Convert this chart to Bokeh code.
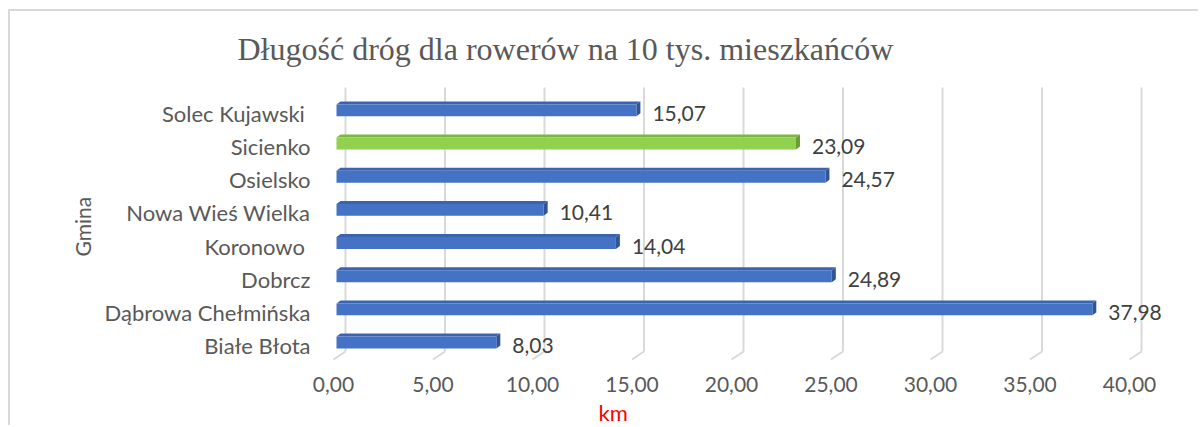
from bokeh.plotting import figure
from bokeh.models import Range1d, FixedTicker, ColumnDataSource, Title
from bokeh.core.properties import value
from bokeh.embed import file_html
from bokeh.resources import INLINE

# ---------------- data ----------------
categories = ["Białe Błota", "Dąbrowa Chełmińska", "Dobrcz", "Koronowo ",
              "Nowa Wieś Wielka", "Osielsko", "Sicienko", "Solec Kujawski "]
values = [8.03, 37.98, 24.89, 14.04, 10.41, 24.57, 23.09, 15.07]
highlight = "Sicienko"
x_ticks = [0, 5, 10, 15, 20, 25, 30, 35, 40]
title_text = "Długość dróg dla rowerów na 10 tys. mieszkańców"
x_title = "km"
y_title = "Gmina"

# ---------------- layout (canvas px) ----------------
W, H = 1190, 416
FL, FR, FT, FB = 310, 1170, 69, 351      # frame edges
X0_PX, X_SCALE = 323, 19.9               # x=0 position and px per unit
Y0_PX, Y_STEP = 335, 33.29               # first category centre and px per category
GRID_TOP, GRID_BACK, GRID_FRONT, GRID_DEPTH = 76, 341, 349, 12
BAR_DX, BAR_DEPTH, BAR_LIFT = 3, 4, 3
FRONT_BOTTOM, FRONT_TOP = -3, 9          # px relative to category centre (upwards)

BLUE, BLUE_TOP, BLUE_SIDE = "#4472C4", "#3B64B0", "#2F5597"
GREEN, GREEN_TOP, GREEN_SIDE = "#92D050", "#7CB83E", "#6A9E33"
TEXT = "#595959"


def dx(px):
    return px / X_SCALE


def dy(px):
    return px / Y_STEP


def ydata(canvas_px):
    return (Y0_PX - canvas_px) / Y_STEP


x_range = Range1d((FL - X0_PX) / X_SCALE, (FR - X0_PX) / X_SCALE)
y_range = Range1d(ydata(FB), ydata(FT))

p = figure(width=W, height=H, x_range=x_range, y_range=y_range,
           output_backend="svg", toolbar_location=None,
           min_border_left=FL, min_border_right=W - FR,
           min_border_top=FT, min_border_bottom=H - FB)
p.styles = {"border-top": "2px solid #D9D9D9", "border-left": "2px solid #D9D9D9",
            "margin-left": "8px", "margin-top": "9px"}
p.outline_line_color = None
p.background_fill_color = "white"
p.border_fill_color = "white"
p.xgrid.visible = False
p.ygrid.visible = False

# ---- 3D style grid lines (back wall + floor diagonal) ----
gx_back = [t + dx(GRID_DEPTH) for t in x_ticks]
p.segment(x0=gx_back, y0=[ydata(GRID_BACK)] * len(x_ticks),
          x1=gx_back, y1=[ydata(GRID_TOP)] * len(x_ticks),
          line_color="#D9D9D9", line_width=2)
p.segment(x0=gx_back, y0=[ydata(GRID_BACK)] * len(x_ticks),
          x1=x_ticks, y1=[ydata(GRID_FRONT)] * len(x_ticks),
          line_color="#D9D9D9", line_width=2)

# ---- bars ----
idx = list(range(len(categories)))
front_c = [GREEN if c == highlight else BLUE for c in categories]
top_c = [GREEN_TOP if c == highlight else BLUE_TOP for c in categories]
side_c = [GREEN_SIDE if c == highlight else BLUE_SIDE for c in categories]

x0 = dx(BAR_DX)
fb = [i + dy(FRONT_BOTTOM) for i in idx]
ft = [i + dy(FRONT_TOP) for i in idx]
xe = [v + dx(BAR_DX) for v in values]

top_xs = [[x0, e, e + dx(BAR_DEPTH), x0 + dx(BAR_DEPTH)] for e in xe]
top_ys = [[t, t, t + dy(BAR_LIFT), t + dy(BAR_LIFT)] for t in ft]
side_xs = [[e, e, e + dx(BAR_DEPTH), e + dx(BAR_DEPTH)] for e in xe]
side_ys = [[b, t, t + dy(BAR_LIFT), b + dy(BAR_LIFT)] for b, t in zip(fb, ft)]

p.patches(xs=top_xs, ys=top_ys, fill_color=top_c, line_color=None)
p.patches(xs=side_xs, ys=side_ys, fill_color=side_c, line_color=None)
p.quad(left=[x0] * len(values), right=xe, bottom=fb, top=ft,
       fill_color=front_c, line_color=None)

# ---- data labels ----
labels = [f"{v:.2f}".replace(".", ",") for v in values]
src = ColumnDataSource(dict(x=values, y=idx, t=labels))
p.text(x="x", y="y", text="t", source=src, x_offset=BAR_DX + BAR_DEPTH + 12,
       text_align="left", text_baseline="middle",
       text_font=value("Lato"), text_font_size="21px", text_color="#404040")

# ---- axes ----
p.xaxis.ticker = FixedTicker(ticks=x_ticks)
p.xaxis.major_label_overrides = {t: f"{t:.2f}".replace(".", ",") for t in x_ticks}
p.xaxis.axis_line_color = None
p.xaxis.major_tick_line_color = None
p.xaxis.minor_tick_line_color = None
p.xaxis.major_label_standoff = 9
p.xaxis.major_label_text_font = "Lato"
p.xaxis.major_label_text_font_size = "21px"
p.xaxis.major_label_text_color = TEXT

p.yaxis.ticker = FixedTicker(ticks=idx)
p.yaxis.major_label_overrides = {i: c for i, c in zip(idx, categories)}
p.yaxis.axis_line_color = None
p.yaxis.major_tick_line_color = None
p.yaxis.minor_tick_line_color = None
p.yaxis.major_label_standoff = 4
p.yaxis.major_label_text_font = "Lato"
p.yaxis.major_label_text_font_size = "22px"
p.yaxis.major_label_text_color = TEXT

# axis titles (as titles so that they can be offset like in the original)
km_title = Title(text=x_title, align="left", offset=278, standoff=4,
                 text_font="Lato", text_font_size="22px", text_font_style="normal",
                 text_color="#FF0000")
p.add_layout(km_title, "below")
gmina_title = Title(text=y_title, align="left", offset=105, standoff=14,
                    text_font="Lato", text_font_size="21px", text_font_style="normal",
                    text_color=TEXT)
p.add_layout(gmina_title, "left")

# ---- main title ----
p.title.text = title_text
p.title.text_font = "Liberation Serif"
p.title.text_font_size = "32px"
p.title.text_font_style = "normal"
p.title.text_color = TEXT
p.title.align = "left"
p.title.offset = -83
p.title.standoff = 28

open("out.html", "w").write(file_html(p, INLINE))
